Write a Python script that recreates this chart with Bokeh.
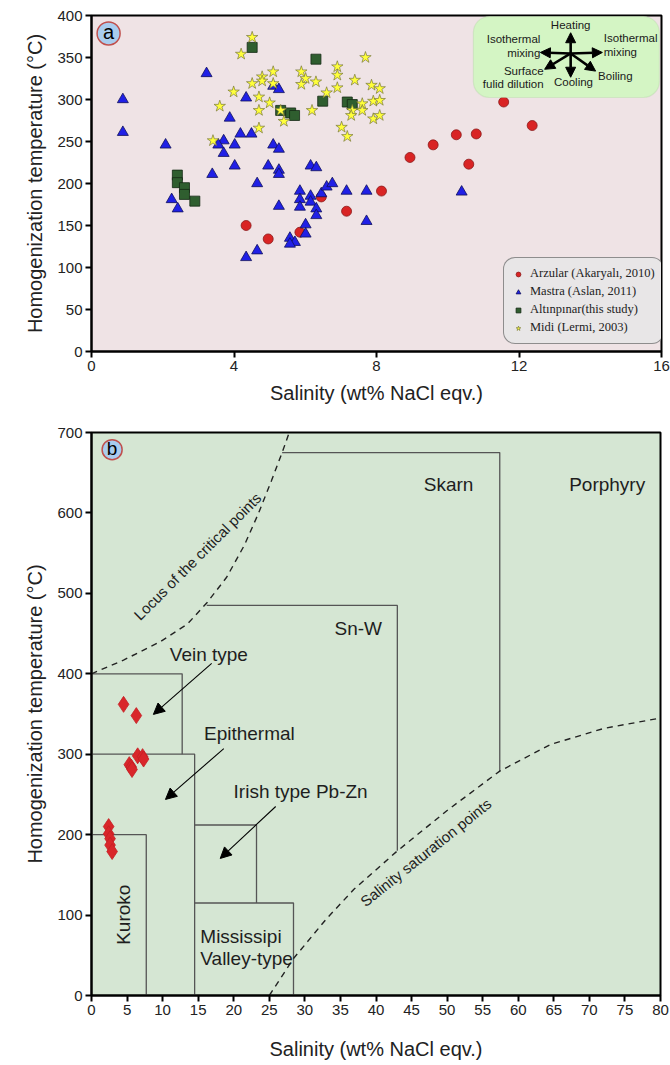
import math
from bokeh.plotting import figure
from bokeh.layouts import column
from bokeh.models import (Range1d, FixedTicker, Label, Arrow, NormalHead,
                          BoxAnnotation, Legend, LegendItem)
from bokeh.embed import file_html
from bokeh.resources import INLINE

FONT = "Liberation Sans"

# ---------------- Panel a data ----------------
arz_sal = [4.34, 4.96, 5.85, 6.45, 7.16, 8.14, 8.94, 9.59, 10.24, 10.59, 10.80, 11.57, 12.37]
arz_th = [150, 134, 142, 184, 167, 191, 231, 246, 258, 223, 259, 297, 269]

mas_sal = [0.88, 0.88, 3.23, 2.08, 4.34, 5.10, 5.26, 3.88, 4.18, 4.49, 3.71, 3.56, 4.02, 3.71,
           5.10, 5.26, 4.02, 4.96, 5.26, 5.26, 3.39, 6.15, 6.31, 4.65, 2.25, 2.42, 5.85, 5.85,
           5.85, 6.15, 6.15, 6.31, 6.31, 6.45, 6.60, 6.76, 7.16, 7.72, 7.72, 5.26, 6.01, 6.01,
           5.57, 5.71, 5.57, 4.65, 4.34, 10.39]
mas_th = [300, 261, 331, 246, 302, 316, 312, 278, 259, 259, 251, 246, 246, 236,
          246, 241, 221, 221, 216, 211, 211, 221, 219, 200, 181, 170, 191, 181,
          172, 185, 178, 170, 162, 188, 196, 200, 191, 191, 155, 173, 151, 140,
          135, 130, 128, 120, 112, 190]

alt_sal = [4.51, 6.30, 6.49, 5.31, 5.59, 5.70, 7.18, 7.32, 2.41, 2.41, 2.61, 2.61, 2.90]
alt_th = [362, 348, 298, 287, 284, 281, 297, 294, 210, 201, 195, 187, 179]

midi_sal = [4.51, 4.20, 4.79, 5.10, 4.79, 4.51, 5.10, 5.89, 6.01, 5.89, 6.30, 6.90, 6.90,
            6.90, 6.60, 7.39, 7.69, 7.86, 8.09, 7.91, 8.09, 7.60, 7.32, 7.60, 7.29, 7.91,
            8.09, 7.02, 7.18, 6.19, 5.40, 5.31, 5.00, 4.70, 4.70, 3.99, 3.60, 4.70, 3.41]
midi_th = [374, 354, 327, 333, 322, 319, 319, 333, 325, 318, 321, 339, 329,
           314, 308, 323, 350, 317, 313, 298, 299, 295, 287, 287, 281, 277,
           281, 267, 256, 287, 274, 287, 296, 303, 287, 309, 292, 266, 251]

legend_labels = ["Arzular (Akaryalı, 2010)", "Mastra (Aslan, 2011)",
                 "Altınpınar(this study)", "Midi (Lermi, 2003)"]
xticks_a = [0, 4, 8, 12, 16]
yticks_a = [0, 50, 100, 150, 200, 250, 300, 350, 400]

# ---------------- Panel b data ----------------
xticks_b = list(range(0, 81, 5))
yticks_b = [0, 100, 200, 300, 400, 500, 600, 700]

# deposit-type boxes (salinity edges, temperature edges)
box_names = ["Vein", "Epithermal", "Kuroko", "Irish", "MVT", "SnW", "Skarn"]
box_x0 = [0, 0, 0, 14.5, 14.5, 16.2, 26.8]
box_x1 = [12.75, 14.5, 7.7, 23.2, 28.4, 43.0, 57.4]
box_top = [400, 300, 200, 212, 115, 485, 675]
box_bot = [300, 0, 0, 115, 0, 180, 279]

crit_sal = [0, 4.5, 9.7, 13.5, 16.2, 19.0, 21.5, 23.5, 25.3, 26.8, 27.8]
crit_th = [400, 417, 440, 462, 488, 520, 560, 600, 640, 675, 700]

sat_sal = [25.0, 28.4, 33.0, 36.9, 42.9, 50.0, 57.4, 64.5, 72.0, 80.0]
sat_th = [0, 46, 95, 132, 179, 230, 279, 312, 332, 345]


def style(p, xticks, yticks):
    for ax in (p.xaxis[0], p.yaxis[0]):
        ax.axis_line_width = 2
        ax.axis_line_color = "black"
        ax.major_tick_line_width = 2
        ax.major_tick_line_color = "black"
        ax.major_tick_out = 6
        ax.major_tick_in = 0
        ax.minor_tick_line_color = None
        ax.major_label_text_font = FONT
        ax.major_label_text_font_size = "15px"
        ax.major_label_text_color = "#222222"
        ax.major_label_standoff = 3
        ax.axis_label_text_font = FONT
        ax.axis_label_text_font_size = "20px"
        ax.axis_label_text_font_style = "normal"
        ax.axis_label_text_color = "#222222"
    p.xaxis.ticker = FixedTicker(ticks=xticks)
    p.yaxis.ticker = FixedTicker(ticks=yticks)
    p.xgrid.grid_line_color = None
    p.ygrid.grid_line_color = None
    p.outline_line_color = "black"
    p.outline_line_width = 2
    p.outline_line_alpha = 1.0


# ================= Panel a =================
pa = figure(frame_width=570, frame_height=336, x_range=Range1d(0, 16), y_range=Range1d(0, 400),
            min_border_left=91, min_border_right=9, min_border_top=15, min_border_bottom=54,
            background_fill_color="#efe3e5", border_fill_color="white",
            output_backend="svg", toolbar_location=None)
style(pa, xticks_a, yticks_a)
pa.xaxis.axis_label = "Salinity (wt% NaCl eqv.)"
pa.yaxis.axis_label = "Homogenization temperature (°C)"
pa.xaxis.axis_label_standoff = 8
pa.yaxis.axis_label_standoff = 8

r1 = pa.scatter(arz_sal, arz_th, marker="circle", size=10, fill_color="#d92424",
                line_color="#8c1a1a", line_width=0.8)
r2 = pa.scatter(mas_sal, mas_th, marker="triangle", size=11, fill_color="#2020e6",
                line_color="#10105a", line_width=0.8)
r3 = pa.scatter(alt_sal, alt_th, marker="square", size=10, fill_color="#2f5e2f",
                line_color="#142814", line_width=0.8)
r4 = pa.scatter(midi_sal, midi_th, marker="star", size=12, fill_color="#ffff3a",
                line_color="#7a7a3a", line_width=0.7)

legend = Legend(items=[LegendItem(label=legend_labels[0], renderers=[r1]),
                       LegendItem(label=legend_labels[1], renderers=[r2]),
                       LegendItem(label=legend_labels[2], renderers=[r3]),
                       LegendItem(label=legend_labels[3], renderers=[r4])],
                location=(412, 7), background_fill_color="#e8e6e7", background_fill_alpha=1.0,
                border_line_color="#333333", border_line_width=1.5,
                label_text_font="Liberation Serif", label_text_font_size="12.5px",
                label_text_color="#222222",
                glyph_width=12, glyph_height=12, label_height=15, spacing=3,
                padding=8, margin=0, label_standoff=6)
if "border_radius" in Legend.properties():
    legend.border_radius = 12
pa.add_layout(legend)

# inset: process diagram
inset = BoxAnnotation(left=10.72, right=15.94, bottom=302.4, top=398.8,
                      fill_color="#d4f5c4", fill_alpha=1.0, line_color="#a9cf9a", line_width=1.2)
if "border_radius" in BoxAnnotation.properties():
    inset.border_radius = 16
pa.add_layout(inset)
cx, cy = 13.45, 354.8
for ex, ey in [(13.45, 379.5), (13.45, 326.5), (12.60, 356.0), (14.34, 356.0),
               (12.72, 336.0), (14.15, 333.8)]:
    pa.add_layout(Arrow(end=NormalHead(size=10, fill_color="black", line_color="black"),
                        x_start=cx, y_start=cy, x_end=ex, y_end=ey,
                        line_color="black", line_width=2.6))
inset_text = [("Heating", 13.45, 388.5, "center"),
              ("Isothermal", 12.60, 372.6, "right"), ("mixing", 12.60, 355.5, "right"),
              ("Isothermal", 14.38, 373.8, "left"), ("mixing", 14.38, 356.0, "left"),
              ("Surface", 12.69, 334.5, "right"), ("fulid dilution", 12.69, 319.0, "right"),
              ("Cooling", 13.53, 320.5, "center"), ("Boiling", 14.22, 327.4, "left")]
for t, x, y, al in inset_text:
    pa.add_layout(Label(x=x, y=y, text=t, text_align=al, text_baseline="middle",
                        text_font=FONT, text_font_size="11.5px", text_color="#1a1a1a"))

# panel badge
pa.scatter([0.48], [378.6], marker="circle", size=23, fill_color="#a9cdee",
           line_color="#c0504d", line_width=1.5)
pa.add_layout(Label(x=0.48, y=378.6, text="a", text_align="center", text_baseline="middle",
                    text_font=FONT, text_font_size="20px", text_color="black", y_offset=1))

# ================= Panel b =================
pb = figure(frame_width=569, frame_height=563, x_range=Range1d(0, 80), y_range=Range1d(0, 700),
            min_border_left=91, min_border_right=10, min_border_top=26, min_border_bottom=71,
            background_fill_color="#d5e6d3", border_fill_color="white",
            output_backend="svg", toolbar_location=None)
style(pb, xticks_b, yticks_b)
pb.xaxis.axis_label = "Salinity (wt% NaCl eqv.)"
pb.yaxis.axis_label = "Homogenization temperature (°C)"
pb.xaxis.axis_label_standoff = 20
pb.yaxis.axis_label_standoff = 8

xs = [[a, b, b] for a, b in zip(box_x0, box_x1)]
ys = [[t, t, d] for t, d in zip(box_top, box_bot)]
pb.multi_line(xs, ys, line_color="#555555", line_width=1.3)

pb.line(crit_sal, crit_th, line_color="#222222", line_width=1.4, line_dash="6 5")
pb.line(sat_sal, sat_th, line_color="#222222", line_width=1.4, line_dash="6 5")

pb.scatter(alt_sal, alt_th, marker="diamond", size=16, fill_color="#d9262a",
           line_color="#c42024", line_width=0.8)

region_text = [("Skarn", 50.2, 635.6, "center", 0), ("Porphyry", 72.5, 635.6, "center", 0),
               ("Sn-W", 37.5, 456.5, "center", 0), ("Vein type", 16.5, 424.0, "center", 0),
               ("Epithermal", 22.2, 326.0, "center", 0), ("Irish type Pb-Zn", 29.4, 253.7, "center", 0),
               ("Mississipi", 15.3, 73.4, "left", 0), ("Valley-type", 15.3, 46.4, "left", 0),
               ("Kuroko", 4.55, 100.4, "center", 90)]
for t, x, y, al, ang in region_text:
    pb.add_layout(Label(x=x, y=y, text=t, text_align=al, text_baseline="middle",
                        angle=math.radians(ang), text_font=FONT, text_font_size="19px",
                        text_color="#1e1e1e"))

pb.add_layout(Label(x=14.9, y=546, text="Locus of the critical points", text_align="center",
                    text_baseline="middle", angle=math.radians(45), text_font=FONT,
                    text_font_size="15px", text_color="#1e1e1e"))
pb.add_layout(Label(x=47.0, y=177.9, text="Salinity saturation points", text_align="center",
                    text_baseline="middle", angle=math.radians(38.7), text_font=FONT,
                    text_font_size="15px", text_color="#1e1e1e"))

for (x0, y0, x1, y1) in [(16.9, 413, 8.7, 349.5), (18.6, 307, 10.4, 243.8), (25.9, 235, 18.1, 170.4)]:
    pb.add_layout(Arrow(end=NormalHead(size=11, fill_color="black", line_color="black"),
                        x_start=x0, y_start=y0, x_end=x1, y_end=y1,
                        line_color="black", line_width=1.1))

pb.scatter([2.9], [678.7], marker="circle", size=20, fill_color="#a9cdee",
           line_color="#c0504d", line_width=1.5)
pb.add_layout(Label(x=2.9, y=678.7, text="b", text_align="center", text_baseline="middle",
                    text_font=FONT, text_font_size="19px", text_color="black", y_offset=1))

layout = column(pa, pb, spacing=0)
open("out.html", "w").write(file_html(layout, INLINE))
